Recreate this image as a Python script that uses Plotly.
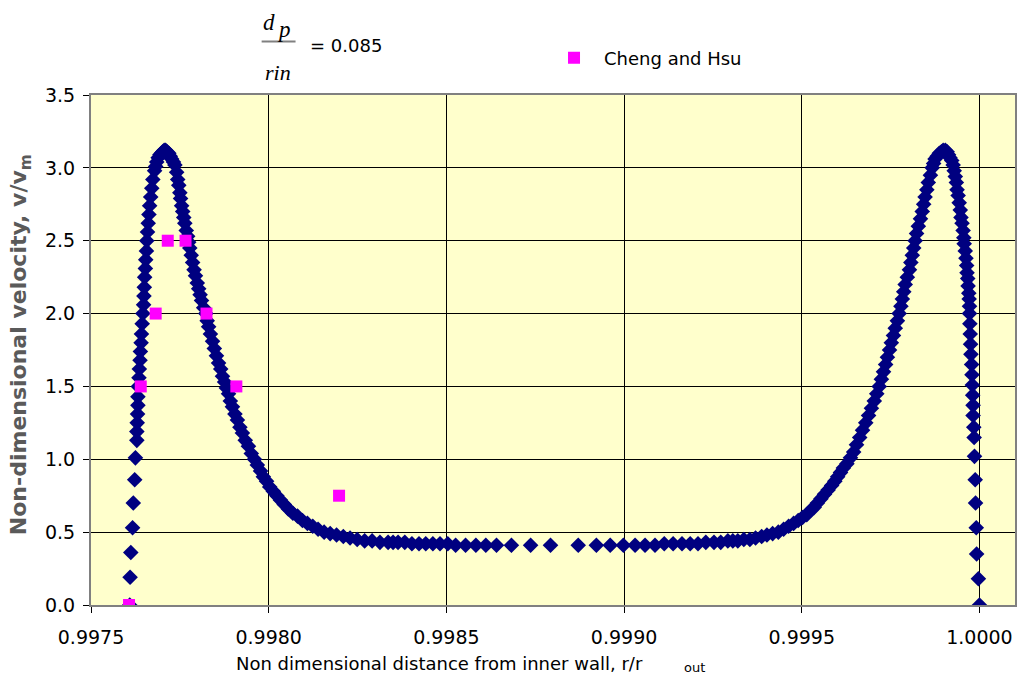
import plotly.graph_objects as go

# ---------------- data ----------------
curve_x = [
    # left rising flank
    0.997609, 0.997610, 0.997612, 0.997617, 0.997619, 0.997623, 0.997625, 0.997629,
    0.997629, 0.997630, 0.997631, 0.997632, 0.997632, 0.997633, 0.997635, 0.997636,
    0.997638, 0.997639, 0.997641, 0.997642, 0.997644, 0.997646, 0.997648, 0.997649,
    0.997650, 0.997651, 0.997653, 0.997654, 0.997656, 0.997657, 0.997659, 0.997661,
    0.997663, 0.997665, 0.997668, 0.997671, 0.997674, 0.997679, 0.997682, 0.997685,
    0.997689, 0.997694, 0.997698, 0.997702, 0.997706, 0.997710,
    # left falling flank
    0.997714, 0.997719, 0.997723, 0.997727, 0.997732, 0.997736, 0.997741, 0.997744,
    0.997747, 0.997750, 0.997752, 0.997755, 0.997758, 0.997761, 0.997764, 0.997768,
    0.997772, 0.997775, 0.997778, 0.997782, 0.997786, 0.997790, 0.997794, 0.997799,
    0.997803, 0.997807, 0.997811, 0.997817, 0.997823, 0.997827, 0.997831, 0.997836,
    0.997842, 0.997847, 0.997853, 0.997859, 0.997865, 0.997870, 0.997876, 0.997881,
    0.997887, 0.997892, 0.997898, 0.997905, 0.997912, 0.997919, 0.997926, 0.997934,
    0.997943, 0.997951, 0.997960, 0.997968, 0.997977, 0.997985, 0.997994, 0.998003,
    0.998013, 0.998023, 0.998033, 0.998044, 0.998055, 0.998068, 0.998081, 0.998095,
    0.998109, 0.998124, 0.998139, 0.998156, 0.998173, 0.998191, 0.998210, 0.998229,
    0.998249, 0.998270, 0.998291, 0.998313, 0.998336, 0.998350,
    # central plateau
    0.998364, 0.998383, 0.998403, 0.998423, 0.998442, 0.998462, 0.998482, 0.998504,
    0.998526, 0.998554, 0.998583, 0.998611, 0.998641, 0.998683, 0.998737, 0.998793,
    0.998871, 0.998922, 0.998961, 0.998998, 0.999031, 0.999059, 0.999087, 0.999113,
    0.999138, 0.999163, 0.999186, 0.999208, 0.999230, 0.999253, 0.999272, 0.999292,
    # right rising flank
    0.999306, 0.999320, 0.999337, 0.999354, 0.999370, 0.999387, 0.999402, 0.999418,
    0.999434, 0.999449, 0.999463, 0.999477, 0.999490, 0.999502, 0.999514, 0.999525,
    0.999535, 0.999544, 0.999554, 0.999564, 0.999574, 0.999584, 0.999593, 0.999601,
    0.999609, 0.999617, 0.999627, 0.999637, 0.999646, 0.999654, 0.999663, 0.999671,
    0.999680, 0.999688, 0.999696, 0.999704, 0.999711, 0.999718, 0.999724, 0.999730,
    0.999736, 0.999741, 0.999747, 0.999752, 0.999758, 0.999763, 0.999769, 0.999774,
    0.999779, 0.999783, 0.999787, 0.999791, 0.999797, 0.999803, 0.999807, 0.999811,
    0.999815, 0.999819, 0.999823, 0.999828, 0.999834, 0.999839, 0.999843, 0.999847,
    0.999852, 0.999856, 0.999862, 0.999867, 0.999871, 0.999875, 0.999881, 0.999887,
    0.999893, 0.999898, 0.999904,
    # right falling flank
    0.999909, 0.999913, 0.999917, 0.999922, 0.999926, 0.999929, 0.999932, 0.999935,
    0.999937, 0.999940, 0.999943, 0.999946, 0.999948, 0.999951, 0.999954, 0.999956,
    0.999957, 0.999960, 0.999962, 0.999964, 0.999965, 0.999967, 0.999968, 0.999970,
    0.999971, 0.999972, 0.999972, 0.999973, 0.999974, 0.999975, 0.999976, 0.999978,
    0.999979, 0.999980, 0.999981, 0.999982, 0.999982, 0.999984, 0.999985, 0.999986,
    0.999988, 0.999989, 0.999991, 0.999992, 0.999997, 1.000000,
]
curve_y = [
    # left rising flank
    0.00, 0.19, 0.36, 0.53, 0.70, 0.86, 1.01, 1.13,
    1.19, 1.25, 1.31, 1.37, 1.43, 1.50, 1.56, 1.62,
    1.68, 1.74, 1.80, 1.86, 1.93, 2.00, 2.06, 2.12,
    2.18, 2.25, 2.31, 2.37, 2.43, 2.50, 2.56, 2.62,
    2.68, 2.74, 2.80, 2.86, 2.92, 2.98, 3.01, 3.04,
    3.07, 3.09, 3.10, 3.11, 3.12, 3.12,
    # left falling flank
    3.11, 3.10, 3.08, 3.06, 3.04, 3.02, 2.97, 2.92,
    2.88, 2.83, 2.79, 2.74, 2.70, 2.66, 2.62, 2.57,
    2.53, 2.49, 2.45, 2.40, 2.35, 2.30, 2.26, 2.21,
    2.17, 2.13, 2.09, 2.04, 2.00, 1.95, 1.91, 1.86,
    1.81, 1.76, 1.71, 1.66, 1.62, 1.57, 1.53, 1.49,
    1.45, 1.40, 1.36, 1.31, 1.27, 1.22, 1.18, 1.13,
    1.09, 1.04, 1.00, 0.96, 0.92, 0.88, 0.85, 0.81,
    0.78, 0.75, 0.72, 0.69, 0.66, 0.63, 0.61, 0.58,
    0.56, 0.54, 0.52, 0.50, 0.49, 0.48, 0.47, 0.46,
    0.45, 0.44, 0.44, 0.43, 0.43, 0.43,
    # central plateau
    0.43, 0.43, 0.42, 0.42, 0.42, 0.42, 0.42, 0.42,
    0.41, 0.41, 0.41, 0.41, 0.41, 0.41, 0.41, 0.41,
    0.41, 0.41, 0.41, 0.41, 0.41, 0.41, 0.41, 0.42,
    0.42, 0.42, 0.42, 0.42, 0.43, 0.43, 0.43, 0.44,
    # right rising flank
    0.44, 0.44, 0.45, 0.45, 0.46, 0.47, 0.48, 0.49,
    0.50, 0.52, 0.54, 0.56, 0.58, 0.60, 0.62, 0.65,
    0.67, 0.70, 0.73, 0.76, 0.79, 0.82, 0.85, 0.88,
    0.91, 0.94, 0.97, 1.01, 1.05, 1.10, 1.15, 1.20,
    1.25, 1.30, 1.35, 1.40, 1.45, 1.50, 1.55, 1.60,
    1.65, 1.70, 1.75, 1.80, 1.85, 1.90, 1.95, 2.00,
    2.05, 2.10, 2.15, 2.20, 2.25, 2.30, 2.35, 2.40,
    2.45, 2.50, 2.55, 2.60, 2.65, 2.70, 2.75, 2.80,
    2.85, 2.90, 2.95, 3.00, 3.03, 3.06, 3.08, 3.10,
    3.11, 3.12, 3.12,
    # right falling flank
    3.11, 3.09, 3.07, 3.05, 3.02, 2.98, 2.94, 2.90,
    2.85, 2.81, 2.76, 2.71, 2.66, 2.62, 2.57, 2.52,
    2.48, 2.43, 2.38, 2.33, 2.28, 2.24, 2.19, 2.14,
    2.10, 2.05, 2.00, 1.93, 1.86, 1.79, 1.72, 1.65,
    1.58, 1.51, 1.44, 1.37, 1.30, 1.22, 1.15, 1.02,
    0.86, 0.70, 0.53, 0.35, 0.18, 0.00,
]

cheng_x = [0.997607, 0.997640, 0.997682, 0.997716, 0.997766, 0.997825, 0.997909, 0.998198]
cheng_y = [0.00, 1.50, 2.00, 2.50, 2.50, 2.00, 1.50, 0.75]

x_tickvals = [0.9975, 0.9980, 0.9985, 0.9990, 0.9995, 1.0000]
x_ticktext = ["0.9975", "0.9980", "0.9985", "0.9990", "0.9995", "1.0000"]
y_tickvals = [0.0, 0.5, 1.0, 1.5, 2.0, 2.5, 3.0, 3.5]
y_ticktext = ["0.0", "0.5", "1.0", "1.5", "2.0", "2.5", "3.0", "3.5"]

# ---------------- layout helpers ----------------
W, H = 1019, 681
PL, PR, PT, PB = 91, 1017, 95, 605


def px(xp):
    return (xp - PL) / (PR - PL)


def py(yp):
    return (PB - yp) / (PB - PT)


fig = go.Figure()
fig.add_trace(go.Scatter(
    x=curve_x, y=curve_y, mode="markers", name="model",
    marker=dict(symbol="diamond", size=12, color="#000080", line=dict(width=0)),
    showlegend=False,
))
fig.add_trace(go.Scatter(
    x=cheng_x, y=cheng_y, mode="markers", name="Cheng and Hsu",
    marker=dict(symbol="square", size=12, color="#FF00FF", line=dict(width=0)),
    showlegend=True,
))

axis_font = dict(family="DejaVu Sans", size=19, color="#000000")
fig.update_layout(
    width=W, height=H,
    margin=dict(l=PL, r=W - PR, t=PT, b=H - PB, pad=0),
    paper_bgcolor="#FFFFFF", plot_bgcolor="#FFFFCC",
    font=dict(family="DejaVu Sans", size=16, color="#000000"),
    xaxis=dict(
        range=[0.9975, 1.0001], tickvals=x_tickvals, ticktext=x_ticktext,
        showgrid=True, gridcolor="#000000", gridwidth=1, zeroline=False,
        showline=True, linecolor="#808080", linewidth=2, mirror=True,
        ticks="outside", ticklen=6, tickcolor="#000000", tickwidth=1,
        tickfont=axis_font, ticklabelstandoff=8,
    ),
    yaxis=dict(
        range=[0, 3.5], tickvals=y_tickvals, ticktext=y_ticktext,
        showgrid=True, gridcolor="#000000", gridwidth=1, zeroline=False,
        showline=True, linecolor="#808080", linewidth=2, mirror=True,
        ticks="outside", ticklen=6, tickcolor="#000000", tickwidth=1,
        tickfont=axis_font, ticklabelstandoff=4,
    ),
    legend=dict(
        x=px(545), y=py(58), xanchor="left", yanchor="middle",
        bgcolor="rgba(0,0,0,0)", borderwidth=0, itemwidth=50,
        font=dict(family="DejaVu Sans", size=18, color="#000000"),
    ),
)


def note(text, xp, yp, size, family="DejaVu Sans", color="#000000", xanchor="center", angle=0):
    return dict(text=text, xref="paper", yref="paper", x=px(xp), y=py(yp),
                xanchor=xanchor, yanchor="middle", showarrow=False, textangle=angle,
                font=dict(family=family, size=size, color=color))


annotations = [
    # x axis title
    note("Non dimensional distance from inner wall, r/r", 234, 663, 18, xanchor="left"),
    note("out", 683, 667, 13, xanchor="left"),
    # y axis title
    note("<b>Non-dimensional velocity, v/v<sub>m</sub></b>", 20, 345, 22,
         color="#5a5a5a", angle=-90),
    # fraction d_p / r_in = 0.085
    note("<i>d</i>", 269, 22, 23, family="Liberation Serif"),
    note("<i>p</i>", 284, 29, 23, family="Liberation Serif"),
    note("<i>rin</i>", 278, 73, 22, family="Liberation Serif"),
    note("= 0.085", 308, 46, 18, xanchor="left"),
]
fig.update_layout(annotations=annotations)
fig.add_shape(type="line", xref="paper", yref="paper",
              x0=px(262), x1=px(296), y0=py(41.5), y1=py(41.5),
              line=dict(color="#808080", width=2))

fig.write_html("out.html")
